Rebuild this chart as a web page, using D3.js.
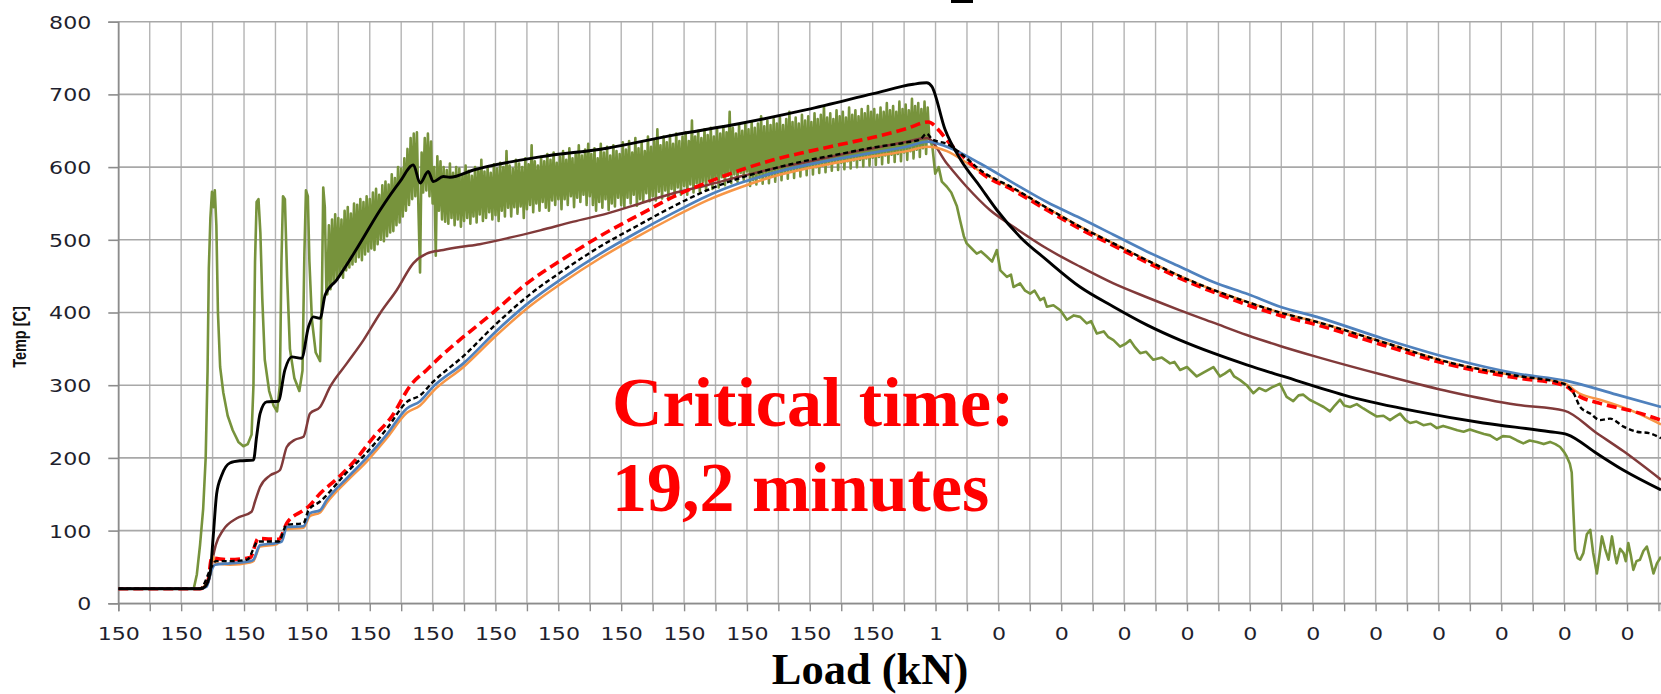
<!DOCTYPE html>
<html><head><meta charset="utf-8">
<script src="https://cdn.jsdelivr.net/npm/d3@7"></script>
<style>body{margin:0;background:#fff}svg{display:block}</style>
</head><body><svg id="chart" width="1661" height="694"></svg>
<script>
// ---------- DATA ----------
// x = category position along the time/load axis (one unit = one gridline interval)
const loadLabels = ["150","150","150","150","150","150","150","150","150","150","150","150","150","1","0","0","0","0","0","0","0","0","0","0","0"];
const tempTicks = [0,100,200,300,400,500,600,700,800];

const blackSolid = [[0,20],[2.6,20],[2.76,23],[2.92,41],[3.02,92],[3.13,151],[3.29,176],[3.55,193],[3.87,196],[4.3,197],[4.4,229],[4.51,261],[4.72,277],[5.09,278],[5.3,321],[5.52,339],[5.83,337],[6.05,380],[6.2,394],[6.42,392],[6.58,424],[6.95,445],[7.59,488],[8.33,541],[8.96,580],[9.39,603],[9.6,578],[9.86,594],[10.02,580],[10.34,587],[10.55,586],[11.3,596],[13.42,614],[15.54,626],[17.66,644],[19.78,660],[21.9,679],[24.02,701],[25.29,714],[25.72,716],[25.88,711],[26.3,652],[26.8,610],[27.42,573],[27.95,541],[28.69,504],[29.54,472],[30.6,435],[31.66,408],[32.72,383],[33.78,362],[34.84,344],[35.9,328],[37.07,312],[39.19,284],[41.31,264],[43.43,248],[45.55,236],[46.1,232],[47.04,206],[47.89,183],[49.08,156]];

const brownSeries = [[0,20],[2.6,20],[2.8,25],[2.95,45],[3.02,65],[3.1,80],[3.34,101],[3.77,117],[4.24,126],[4.35,140],[4.51,160],[4.83,176],[5.14,183],[5.36,215],[5.62,225],[5.89,229],[6.1,261],[6.42,270],[6.74,298],[7.27,330],[7.8,362],[8.33,399],[8.86,431],[9.39,468],[9.81,481],[10.34,486],[10.87,490],[11.5,494],[12.36,502],[13.42,513],[14.48,525],[15.54,536],[16.6,550],[17.66,564],[18.72,575],[19.78,587],[20.84,598],[21.9,607],[22.96,617],[24.02,626],[25.08,635],[25.72,640],[26.36,605],[26.99,573],[27.73,541],[28.48,518],[29.54,488],[30.6,463],[31.66,440],[32.72,421],[33.78,403],[34.84,386],[35.9,369],[36.96,354],[38.13,339],[40.25,314],[42.37,291],[44.49,273],[46.0,265],[47.04,234],[47.89,209],[49.08,170]];

const redDashed = [[0,20],[2.6,20],[2.85,30],[2.97,62],[3.5,60],[4.09,62],[4.2,63],[4.45,89],[5.1,88],[5.36,110],[5.89,128],[6.05,133],[6.42,151],[6.95,171],[7.5,195],[8.11,228],[8.7,257],[9.3,300],[9.81,321],[10.24,339],[10.8,360],[11.93,400],[13.0,440],[14.2,475],[15.4,507],[16.6,535],[17.7,560],[18.8,580],[19.8,596],[20.84,610],[21.9,621],[22.96,631],[24.02,641],[25.08,653],[25.77,662],[26.14,649],[26.36,637],[26.99,610],[27.42,593],[28.48,568],[29.54,541],[30.6,515],[31.66,492],[32.72,469],[33.78,447],[34.84,428],[35.95,410],[36.96,396],[38.13,383],[40.25,355],[42.37,328],[44.49,310],[45.98,300],[46.51,284],[47.14,275],[48.2,264],[49.08,252]];

const blackDashed = [[0,20],[2.6,20],[2.97,50],[3.1,58],[3.6,58],[4.1,60],[4.45,85],[5.1,85],[5.36,108],[5.89,110],[6.05,128],[6.42,140],[7.27,180],[7.9,207],[8.54,240],[9.18,277],[9.6,286],[10.02,305],[10.98,340],[12.04,385],[13.1,425],[14.16,458],[15.3,490],[16.5,519],[17.66,546],[18.72,568],[19.78,585],[20.84,598],[21.9,609],[22.96,618],[24.02,627],[25.08,634],[25.5,638],[25.72,646],[25.9,638],[26.36,632],[26.99,612],[27.42,596],[28.48,571],[29.54,544],[30.6,518],[31.66,495],[32.72,472],[33.78,450],[34.84,431],[35.95,414],[36.96,400],[38.13,387],[40.25,359],[42.37,331],[44.49,313],[45.98,302],[46.3,289],[46.51,270],[46.83,261],[47.14,252],[47.46,254],[47.89,243],[48.31,236],[48.7,234],[49.08,227]];

const blueSeries = [[0,20],[2.6,20],[2.81,23],[2.97,46],[3.08,53],[3.55,55],[4.19,58],[4.3,60],[4.51,80],[5.04,83],[5.2,85],[5.36,105],[5.89,106],[6.1,124],[6.42,128],[6.63,142],[7.27,172],[7.9,200],[8.54,232],[9.18,268],[9.6,278],[10.02,298],[10.98,330],[12.04,375],[13.1,415],[14.16,448],[15.3,480],[16.5,510],[17.66,537],[18.72,560],[19.78,578],[20.84,592],[21.9,603],[22.96,612],[24.02,620],[25.08,628],[25.75,635],[26.36,628],[27.42,605],[28.48,578],[29.54,552],[30.6,530],[31.66,507],[32.72,484],[33.78,463],[34.84,442],[35.95,425],[36.96,408],[38.13,394],[40.25,364],[42.37,337],[44.49,316],[46.08,306],[47.67,287],[49.08,270]];

const orangeSeries = [[0,20],[2.6,20],[2.95,45],[3.0,65],[3.1,55],[3.55,53],[4.19,56],[4.3,58],[4.51,78],[5.04,81],[5.36,102],[5.89,104],[6.1,120],[6.42,125],[6.63,138],[7.27,168],[7.9,195],[8.54,227],[9.18,262],[9.6,272],[10.02,292],[10.98,325],[12.04,369],[13.1,409],[14.16,442],[15.3,474],[16.5,504],[17.66,531],[18.72,554],[19.78,572],[20.84,587],[21.9,598],[22.96,607],[24.02,615],[25.08,622],[25.75,628],[26.36,622],[26.99,606],[27.42,594],[28.48,570],[29.54,544],[30.6,518],[31.66,495],[32.72,472],[33.78,450],[34.84,431],[35.95,414],[36.96,400],[38.13,387],[40.25,359],[42.37,331],[44.49,313],[45.98,303],[46.51,288],[47.14,280],[48.2,264],[49.08,246]];

const greenMeasured = [[0,20],[2.4,20],[2.5,40],[2.6,80],[2.7,130],[2.78,200],[2.84,320],[2.88,460],[2.93,530],[2.98,566],[3.03,545],[3.07,568],[3.12,520],[3.17,400],[3.24,325],[3.34,290],[3.48,258],[3.64,238],[3.82,222],[3.98,216],[4.12,219],[4.24,232],[4.3,300],[4.35,470],[4.4,552],[4.46,556],[4.52,510],[4.58,420],[4.66,335],[4.8,292],[4.94,272],[5.05,264],[5.14,300],[5.19,470],[5.24,560],[5.3,556],[5.37,450],[5.46,350],[5.6,310],[5.76,292],[5.86,320],[5.92,480],[5.97,568],[6.03,560],[6.08,470],[6.16,390],[6.28,345],[6.42,333],[6.48,430],[6.52,572],[6.57,545],[6.62,430],
[6.65,425],[6.70,520],[6.75,432],[6.80,528],[6.85,440],[6.90,535],[6.95,445],[7.00,530],
[7.05,452],[7.10,528],[7.15,448],[7.20,540],[7.25,458],[7.30,545],[7.35,462],[7.40,536],[7.45,466],[7.50,550],[7.55,470],[7.60,548],[7.65,476],[7.70,556],[7.75,472],[7.80,552],[7.85,480],[7.90,560],[7.95,484],[8.00,556],
[8.05,488],[8.10,565],[8.15,486],[8.20,570],[8.25,494],[8.30,562],[8.35,500],[8.40,575],[8.45,498],[8.50,580],[8.55,505],[8.60,576],[8.65,510],[8.70,590],[8.75,512],[8.80,585],[8.85,520],[8.90,600],[8.95,524],[9.00,598],
[9.05,532],[9.10,612],[9.15,540],[9.20,625],[9.25,548],[9.30,640],[9.35,556],[9.40,646],[9.45,560],[9.50,648],[9.55,540],[9.60,455],[9.65,620],[9.70,565],[9.75,640],[9.80,568],[9.85,646],[9.90,560],[9.95,635],[10.00,550],
[10.05,600],[10.10,478],[10.15,615],[10.20,540],[10.25,608],[10.30,528],[10.35,600],[10.40,525],[10.45,596],[10.50,522],[10.55,605],[10.60,530],[10.65,592],[10.70,520],[10.75,600],[10.80,528],[10.85,598],[10.90,518],[10.95,590],[11.00,526],
[11.05,602],[11.10,530],[11.15,595],[11.20,522],[11.25,588],[11.30,532],[11.35,600],[11.40,524],[11.45,596],[11.50,535],[11.55,610],[11.60,526],[11.65,594],[11.70,530],[11.75,600],[11.80,538],[11.85,592],[11.90,528],[11.95,604],[12.00,534],
[12.05,598],[12.10,526],[12.15,606],[12.20,540],[12.25,600],[12.30,532],[12.35,622],[12.40,544],[12.45,602],[12.50,532],[12.55,598],[12.60,545],[12.65,610],[12.70,536],[12.75,605],[12.80,546],[12.85,600],[12.90,530],[12.95,612],[13.00,542],
[13.05,604],[13.10,548],[13.15,630],[13.20,538],[13.25,608],[13.30,550],[13.35,602],[13.40,540],[13.45,614],[13.50,552],[13.55,608],[13.60,544],[13.65,618],[13.70,540],[13.75,610],[13.80,554],[13.85,620],[13.90,548],[13.95,606],[14.00,556],
[14.05,614],[14.10,542],[14.15,622],[14.20,556],[14.25,610],[14.30,548],[14.35,626],[14.40,560],[14.45,612],[14.50,545],[14.55,618],[14.60,558],[14.65,630],[14.70,552],[14.75,616],[14.80,562],[14.85,624],[14.90,548],[14.95,632],[15.00,560],
[15.05,618],[15.10,548],[15.15,626],[15.20,540],[15.25,612],[15.30,552],[15.35,632],[15.40,544],[15.45,620],[15.50,556],[15.55,628],[15.60,541],[15.65,616],[15.70,550],[15.75,630],[15.80,546],[15.85,622],[15.90,558],[15.95,618],[16.00,548],
[16.05,634],[16.10,545],[16.15,624],[16.20,558],[16.25,636],[16.30,550],[16.35,620],[16.40,562],[16.45,640],[16.50,547],[16.55,626],[16.60,556],[16.65,634],[16.70,552],[16.75,622],[16.80,564],[16.85,642],[16.90,553],[16.95,628],[17.00,560],
[17.05,636],[17.10,554],[17.15,652],[17.20,566],[17.25,630],[17.30,557],[17.35,642],[17.40,568],[17.45,634],[17.50,556],[17.55,644],[17.60,570],[17.65,632],[17.70,560],[17.75,646],[17.80,572],[17.85,636],[17.90,562],[17.95,642],[18.00,574],
[18.05,648],[18.10,562],[18.15,636],[18.20,576],[18.25,664],[18.30,565],[18.35,642],[18.40,578],[18.45,650],[18.50,566],[18.55,640],[18.60,580],[18.65,652],[18.70,568],[18.75,644],[18.80,582],[18.85,654],[18.90,570],[18.95,642],[19.00,584],
[19.05,652],[19.10,572],[19.15,646],[19.20,586],[19.25,656],[19.30,575],[19.35,648],[19.40,588],[19.45,676],[19.50,578],[19.55,654],[19.60,590],[19.65,646],[19.70,580],[19.75,658],[19.80,592],[19.85,650],[19.90,582],[19.95,660],[20.00,594],
[20.05,652],[20.10,574],[20.15,662],[20.20,582],[20.25,654],[20.30,576],[20.35,660],[20.40,585],[20.45,670],[20.50,577],[20.55,656],[20.60,586],[20.65,664],[20.70,578],[20.75,658],[20.80,588],[20.85,666],[20.90,580],[20.95,660],[21.00,590],
[21.05,668],[21.10,582],[21.15,658],[21.20,592],[21.25,666],[21.30,584],[21.35,676],[21.40,594],[21.45,662],[21.50,585],[21.55,668],[21.60,596],[21.65,660],[21.70,587],[21.75,672],[21.80,598],[21.85,664],[21.90,589],[21.95,670],[22.00,600],
[22.05,662],[22.10,590],[22.15,674],[22.20,600],[22.25,666],[22.30,592],[22.35,672],[22.40,602],[22.45,684],[22.50,593],[22.55,668],[22.60,604],[22.65,674],[22.70,595],[22.75,666],[22.80,606],[22.85,678],[22.90,596],[22.95,670],[23.00,606],
[23.05,676],[23.10,597],[23.15,668],[23.20,608],[23.25,682],[23.30,598],[23.35,672],[23.40,609],[23.45,678],[23.50,600],[23.55,670],[23.60,610],[23.65,680],[23.70,601],[23.75,674],[23.80,612],[23.85,684],[23.90,602],[23.95,676],[24.00,613],
[24.05,680],[24.10,603],[24.15,672],[24.20,614],[24.25,682],[24.30,604],[24.35,676],[24.40,616],[24.45,688],[24.50,606],[24.55,678],[24.60,617],[24.65,684],[24.70,607],[24.75,676],[24.80,618],[24.85,690],[24.90,608],[24.95,680],[25.00,620],
[25.05,686],[25.10,610],[25.15,678],[25.20,622],[25.25,694],[25.30,612],[25.35,684],[25.40,624],[25.45,688],[25.50,614],[25.55,680],[25.60,626],[25.65,690],[25.70,618],[25.75,682],[25.80,640],
[25.9,628],[25.99,591],[26.1,600],[26.2,580],[26.36,573],[26.5,565],[26.68,546],[26.78,527],[26.9,505],[26.99,495],[27.15,488],[27.31,481],[27.45,484],[27.63,477],[27.8,470],[27.95,486],[28.06,458],[28.27,449],[28.4,452],[28.48,435],[28.69,440],[28.85,430],[29.01,426],[29.15,430],[29.33,417],[29.45,420],[29.54,408],[29.75,410],[29.97,403],[30.18,390],[30.4,396],[30.6,394],[30.81,385],[30.95,388],[31.13,371],[31.35,374],[31.5,366],[31.66,362],[31.87,353],[32.05,357],[32.19,362],[32.35,352],[32.51,344],[32.7,346],[32.93,335],[33.2,338],[33.46,330],[33.6,332],[33.78,321],[34.0,325],[34.31,312],[34.55,318],[34.84,325],[35.05,312],[35.2,316],[35.37,321],[35.5,312],[35.69,307],[35.9,300],[36.11,289],[36.3,296],[36.5,292],[36.7,297],[36.96,302],[37.17,284],[37.38,278],[37.55,286],[37.7,287],[37.9,280],[38.13,275],[38.35,270],[38.55,264],[38.7,272],[38.87,280],[39.0,272],[39.19,270],[39.4,274],[39.61,268],[39.8,263],[40.03,257],[40.25,258],[40.46,252],[40.6,256],[40.78,261],[40.95,252],[41.1,248],[41.3,250],[41.52,245],[41.75,247],[41.95,241],[42.15,244],[42.37,241],[42.6,238],[42.8,236],[43.0,239],[43.22,236],[43.45,233],[43.64,231],[43.86,225],[44.05,230],[44.28,229],[44.5,224],[44.7,220],[44.9,224],[45.13,222],[45.35,219],[45.55,222],[45.72,219],[45.87,215],[46.0,208],[46.08,202],[46.18,192],[46.24,180],[46.29,129],[46.35,73],[46.43,62],[46.51,60],[46.61,69],[46.72,95],[46.83,101],[46.92,70],[47.04,41],[47.12,65],[47.2,92],[47.3,75],[47.41,60],[47.52,92],[47.6,70],[47.67,55],[47.78,75],[47.89,69],[47.96,58],[48.04,83],[48.12,66],[48.2,46],[48.3,58],[48.41,60],[48.52,72],[48.63,78],[48.74,60],[48.84,41],[48.95,55],[49.08,64]];

// ---------- CHART ----------
const svg = d3.select("#chart");
const plotLeft = 118.3, plotRight = 1661, plotTop = 21.7, plotBottom = 603.3;
const xMax = 49.08;
const x = d3.scaleLinear().domain([0, xMax]).range([plotLeft, plotRight]);
const y = d3.scaleLinear().domain([0, 800]).range([plotBottom, plotTop]);
const gridPos = d3.range(0, Math.floor(xMax) + 1);

// vertical gridlines
svg.append("g").selectAll("line").data(gridPos).join("line")
  .attr("x1", d => x(d)).attr("x2", d => x(d))
  .attr("y1", plotTop).attr("y2", plotBottom)
  .attr("stroke", "#B4B4B4").attr("stroke-width", 1.4);
// horizontal gridlines
svg.append("g").selectAll("line").data(tempTicks).join("line")
  .attr("x1", plotLeft).attr("x2", plotRight)
  .attr("y1", d => y(d)).attr("y2", d => y(d))
  .attr("stroke", "#A8A8A8").attr("stroke-width", 1.6);

// y axis
const yAxis = svg.append("g").attr("transform", `translate(${plotLeft},0)`)
  .call(d3.axisLeft(y).tickValues(tempTicks).tickSize(10).tickFormat(d3.format("d")));
yAxis.select(".domain").attr("stroke", "#8C8C8C").attr("stroke-width", 1.6);
yAxis.selectAll(".tick line").attr("stroke", "#8C8C8C").attr("stroke-width", 1.6);
yAxis.selectAll(".tick text")
  .attr("x", 0).attr("dy", "0.36em")
  .attr("transform", "translate(-27,0) scale(1.23,1)")
  .attr("text-anchor", "end")
  .style("font-family", "'DejaVu Sans', Verdana, sans-serif").style("font-size", "18px").attr("fill", "#1f1f2e");

// x axis (ticks at every gridline, labels at every second one)
const xAxis = svg.append("g").attr("transform", `translate(0,${plotBottom})`)
  .call(d3.axisBottom(x).tickValues(gridPos).tickSize(8)
    .tickFormat(d => d % 2 === 0 && loadLabels[d / 2] !== undefined ? loadLabels[d / 2] : ""));
xAxis.select(".domain").attr("stroke", "#8C8C8C").attr("stroke-width", 1.6);
xAxis.selectAll(".tick line").attr("stroke", "#8C8C8C").attr("stroke-width", 1.4);
xAxis.selectAll(".tick text").filter(function() { return this.textContent === ""; }).remove();
xAxis.selectAll(".tick text")
  .attr("y", 37).attr("dy", "0")
  .attr("transform", "scale(1.23,1)")
  .style("font-family", "'DejaVu Sans', Verdana, sans-serif").style("font-size", "18px").attr("fill", "#1f1f2e");

// clip
svg.append("clipPath").attr("id", "plotclip").append("rect")
  .attr("x", plotLeft).attr("y", 0).attr("width", plotRight - plotLeft).attr("height", plotBottom + 4);

const lineLin = d3.line().x(d => x(d[0])).y(d => y(d[1]));
const lineSmooth = d3.line().x(d => x(d[0])).y(d => y(d[1])).curve(d3.curveMonotoneX);

const seriesList = [
  {data: greenMeasured, color: "#77933C", width: 2.6, dash: null, gen: lineLin},
  {data: brownSeries, color: "#813A3A", width: 2.5, dash: null, gen: lineSmooth},
  {data: orangeSeries, color: "#F79646", width: 2.5, dash: null, gen: lineSmooth},
  {data: redDashed, color: "#FF0000", width: 3.6, dash: "10,5", gen: lineSmooth},
  {data: blueSeries, color: "#4F81BD", width: 2.7, dash: null, gen: lineSmooth},
  {data: blackDashed, color: "#000000", width: 2.4, dash: "5,3", gen: lineSmooth},
  {data: blackSolid, color: "#000000", width: 2.9, dash: null, gen: lineSmooth}
];
const gLines = svg.append("g").attr("clip-path", "url(#plotclip)");
seriesList.forEach(s => {
  gLines.append("path").datum(s.data)
    .attr("d", s.gen)
    .attr("fill", "none")
    .attr("stroke", s.color)
    .attr("stroke-width", s.width)
    .attr("stroke-linejoin", "round")
    .attr("stroke-dasharray", s.dash);
});

// axis titles
svg.append("text")
  .attr("transform", "translate(26,337) rotate(-90) scale(1,1.3)")
  .attr("text-anchor", "middle")
  .style("font-family", "'Liberation Sans', Arial, sans-serif").style("font-weight", "bold").style("font-size", "14.5px")
  .attr("fill", "#111")
  .text("Temp [C]");

svg.append("text")
  .attr("x", 870).attr("y", 684.3).attr("text-anchor", "middle")
  .style("font-family", "'Liberation Serif', 'Times New Roman', serif").style("font-weight", "bold").style("font-size", "44.5px")
  .attr("fill", "#000").text("Load (kN)");

// cropped fragment of the chart title at the very top edge
svg.append("rect").attr("x", 951).attr("y", 0).attr("width", 22).attr("height", 3).attr("fill", "#000");

// annotation
const note = svg.append("text")
  .style("font-family", "'Liberation Serif', 'Times New Roman', serif").style("font-weight", "bold").style("font-size", "70px")
  .attr("fill", "#FF0000");
note.append("tspan").attr("x", 612).attr("y", 426).text("Critical time:");
note.append("tspan").attr("x", 612).attr("y", 510.6).text("19,2 minutes");
</script>
</body></html>
